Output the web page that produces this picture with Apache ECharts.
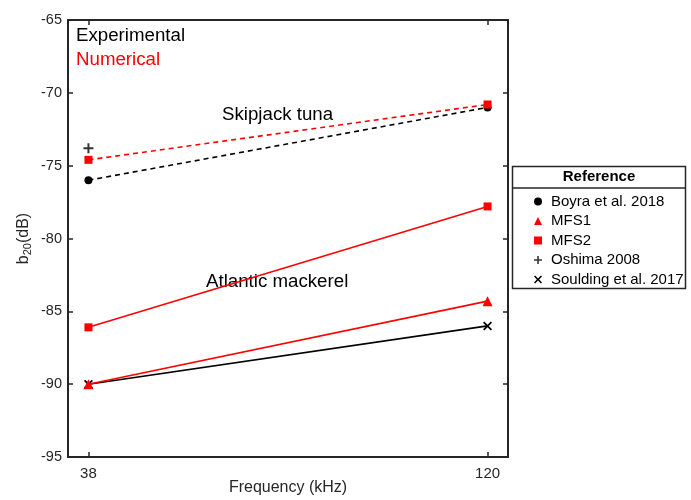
<!DOCTYPE html>
<html>
<head>
<meta charset="utf-8">
<script src="https://cdn.jsdelivr.net/npm/echarts@6/dist/echarts.min.js"></script>
<style>
  html, body { margin: 0; padding: 0; background: #fff; }
  #chart { width: 691px; height: 500px; }
</style>
</head>
<body>
<div id="chart"></div>
<script>
// x values (kHz) and series values (dB)
const freqs = [38, 120]
const boyra = [-76.0, -71.0]          // Skipjack, experimental
const mfs2Tuna = [-74.6, -70.8]       // Skipjack, numerical
const oshima = [-73.8]                // Skipjack, experimental at 38 only
const mfs2Mackerel = [-86.1, -77.8]   // Atlantic mackerel, numerical
const mfs1 = [-90.0, -84.3]
const soulding = [-90.0, -86.0]

const xTicks = [38, 120]

const plusPath = 'path://M4,0H6V4H10V6H6V10H4V6H0V4H4Z'
const crossPath = 'path://M1.4,0L5,3.6L8.6,0L10,1.4L6.4,5L10,8.6L8.6,10L5,6.4L1.4,10L0,8.6L3.6,5L0,1.4Z'

const legendItems = [
  { name: 'Boyra et al. 2018', icon: 'circle' },
  { name: 'MFS1', icon: 'triangle' },
  { name: 'MFS2', icon: 'rect' },
  { name: 'Oshima 2008', icon: plusPath },
  { name: 'Soulding et al. 2017', icon: crossPath }
]

const pairs = (ys) => ys.map((y, i) => [freqs[i], y])

const font = 'Arial, "Liberation Sans", sans-serif'
const axisColor = '#262626'
const RED = '#ff0000'
const BLACK = '#000000'

const chart = echarts.init(document.getElementById('chart'))

const baseX = {
  type: 'value', min: 33.8, max: 124.2,
  axisLine: { show: true, onZero: false, lineStyle: { color: axisColor, width: 2 } },
  axisTick: { show: true, inside: true, length: 5, customValues: xTicks, lineStyle: { color: axisColor, width: 1.5 } },
  splitLine: { show: false }
}
const baseY = {
  type: 'value', min: -95, max: -65, interval: 5,
  axisLine: { show: true, onZero: false, lineStyle: { color: axisColor, width: 2 } },
  axisTick: { show: true, inside: true, length: 5, lineStyle: { color: axisColor, width: 1.5 } },
  splitLine: { show: false }
}

const option = {
  animation: false,
  textStyle: { fontFamily: font },
  grid: { left: 68, top: 20, right: 183, bottom: 43, outerBoundsMode: 'none', containLabel: false },
  xAxis: [
    Object.assign({}, baseX, {
      position: 'bottom',
      name: 'Frequency (kHz)', nameLocation: 'middle', nameGap: 23, nameMoveOverlap: false,
      nameTextStyle: { fontSize: 16, color: axisColor, fontFamily: font },
      axisLabel: { show: true, margin: 9, fontSize: 15, color: axisColor, fontFamily: font, customValues: xTicks }
    }),
    Object.assign({}, baseX, { position: 'top', axisLabel: { show: false } })
  ],
  yAxis: [
    Object.assign({}, baseY, {
      position: 'left',
      name: '{a|b}{s|20}{a|(dB)}', nameLocation: 'middle', nameGap: 35, nameRotate: 90, nameMoveOverlap: false,
      nameTextStyle: {
        rich: {
          a: { fontSize: 16, color: axisColor, fontFamily: font },
          s: { fontSize: 11, color: axisColor, fontFamily: font, verticalAlign: 'bottom', padding: [7, 0, 0, 0] }
        }
      },
      axisLabel: { show: true, margin: 6, fontSize: 14.5, color: axisColor, fontFamily: font }
    }),
    Object.assign({}, baseY, { position: 'right', axisLabel: { show: false } })
  ],
  legend: {
    orient: 'vertical',
    left: 529, top: 189,
    itemWidth: 8, itemHeight: 8, itemGap: 4.5,
    data: legendItems,
    textStyle: { fontSize: 15, color: BLACK, fontFamily: font, lineHeight: 15, padding: [0, 0, 0, 4] },
    selectedMode: false,
    z: 10
  },
  graphic: [
    { type: 'rect', z: 1, shape: { x: 512.5, y: 166.5, width: 173, height: 122 },
      style: { fill: '#fff', stroke: axisColor, lineWidth: 1.5 } },
    { type: 'line', z: 2, shape: { x1: 512.5, y1: 188, x2: 685.5, y2: 188 },
      style: { stroke: axisColor, lineWidth: 1.5 } },
    { type: 'text', z: 3, x: 599, y: 177,
      style: { text: 'Reference', font: 'bold 15px ' + font, fill: BLACK, textAlign: 'center', textVerticalAlign: 'middle' } },
    { type: 'text', x: 76, y: 36,
      style: { text: 'Experimental', font: '18.7px ' + font, fill: BLACK, textVerticalAlign: 'middle' } },
    { type: 'text', x: 76, y: 60,
      style: { text: 'Numerical', font: '18.7px ' + font, fill: RED, textVerticalAlign: 'middle' } },
    { type: 'text', x: 222, y: 115,
      style: { text: 'Skipjack tuna', font: '18.7px ' + font, fill: BLACK, textVerticalAlign: 'middle' } },
    { type: 'text', x: 206, y: 282,
      style: { text: 'Atlantic mackerel', font: '18.7px ' + font, fill: BLACK, textVerticalAlign: 'middle' } }
  ],
  series: [
    {
      name: 'Boyra et al. 2018', type: 'line', data: pairs(boyra),
      symbol: 'circle', symbolSize: 8,
      itemStyle: { color: BLACK },
      lineStyle: { color: BLACK, width: 1.6, type: [5, 4] }
    },
    {
      name: 'MFS2', type: 'line', data: pairs(mfs2Tuna),
      symbol: 'rect', symbolSize: 8,
      itemStyle: { color: RED },
      lineStyle: { color: RED, width: 1.6, type: [5, 4] }
    },
    {
      name: 'Oshima 2008', type: 'scatter', data: pairs(oshima),
      symbol: plusPath, symbolSize: 10,
      itemStyle: { color: BLACK }
    },
    {
      name: 'MFS2', type: 'line', data: pairs(mfs2Mackerel),
      symbol: 'rect', symbolSize: 8,
      itemStyle: { color: RED },
      lineStyle: { color: RED, width: 1.6 }
    },
    {
      name: 'Soulding et al. 2017', type: 'line', data: pairs(soulding),
      symbol: crossPath, symbolSize: 9,
      itemStyle: { color: BLACK },
      lineStyle: { color: BLACK, width: 1.6 }
    },
    {
      name: 'MFS1', type: 'line', data: pairs(mfs1),
      symbol: 'triangle', symbolSize: 10,
      itemStyle: { color: RED },
      lineStyle: { color: RED, width: 1.6 }
    }
  ]
}

chart.setOption(option)
</script>
</body>
</html>
